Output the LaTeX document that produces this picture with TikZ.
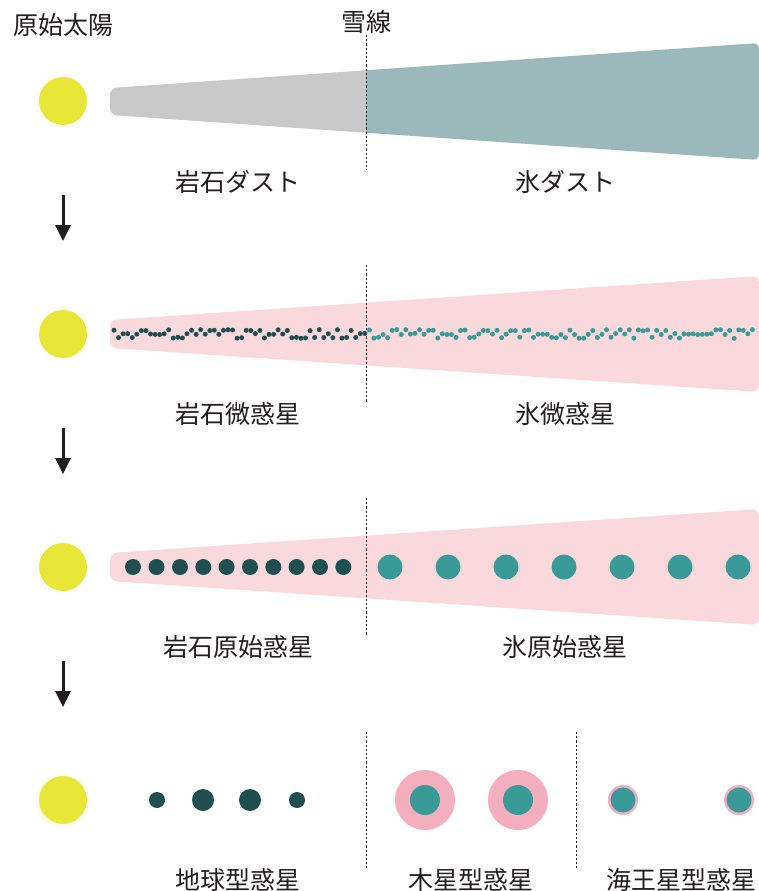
\documentclass[tikz,border=0pt]{standalone}
\usepackage{fontspec}
\setmainfont{Noto Sans CJK JP}
\usetikzlibrary{arrows.meta}
\definecolor{sunY}{HTML}{E8E737}
\definecolor{rockG}{HTML}{C8CAC9}
\definecolor{iceG}{HTML}{9BB8BA}
\definecolor{diskP}{HTML}{FAD9DD}
\definecolor{darkT}{HTML}{1F4F4E}
\definecolor{lightT}{HTML}{3A9A98}
\definecolor{ringP}{HTML}{F4AFBF}
\definecolor{txt}{HTML}{231F20}
\tikzset{
  lbl/.style={font=\fontsize{25}{28}\selectfont, text=txt, inner sep=0pt},
  sun/.style={circle, fill=sunY, minimum size=48pt, inner sep=0pt},
  snow/.style={dash pattern=on 2.2pt off 2pt, line width=1pt, txt},
  downarrow/.style={line width=3pt, txt, -{Triangle[length=16pt,width=15pt]}},
  rockdot/.style={circle, fill=darkT, inner sep=0pt},
  icedot/.style={circle, fill=lightT, inner sep=0pt},
}
\begin{document}
\begin{tikzpicture}[x=1pt,y=-1pt]
\useasboundingbox (0,0) rectangle (759,891);
% titles
\node[lbl] (tsun) at (63,25) {原始太陽};
\node[lbl] (tsnow) at (366,22) {雪線};
% suns
\foreach \yy/\n in {101/1,334/2,567/3,800/4}
  \node[sun] (sun\n) at (63,\yy) {};
% arrows
\foreach \a/\b/\n in {195/241/1,428/474/2,661/707/3}{
  \coordinate (as\n) at (63,\a);
  \coordinate (ae\n) at (63,\b);
  \draw[downarrow] (as\n) -- (ae\n);
}
% row 1 disk
\begin{scope}
  \clip (366,30) rectangle (770,170);
  \fill[iceG, rounded corners=6pt] (110,88) -- (759,43) -- (759,160) -- (110,115) -- cycle;
\end{scope}
\begin{scope}
  \clip (100,30) rectangle (366,170);
  \fill[rockG, rounded corners=7pt] (110,88) -- (759,43) -- (759,160) -- (110,115) -- cycle;
\end{scope}
% rows 2,3 disks
\foreach \c in {334,567}{
  \fill[diskP, rounded corners=7pt] (110,\c-14) -- (759,\c-58) -- (759,\c+58) -- (110,\c+14) -- cycle;
}
% snow lines
\foreach \a/\b/\n in {35/170/1,265/403/2,498/636/3,732/868/4}{
  \coordinate (sa\n) at (366,\a);
  \coordinate (sb\n) at (366,\b);
  \draw[snow] (sa\n) -- (sb\n);
}
\coordinate (na) at (576,732);
\coordinate (nb) at (576,868);
\draw[snow] (na) -- (nb);
% planetesimals
\pgfmathsetseed{11}
\foreach \i in {0,...,140}{
  \pgfmathsetmacro{\xx}{114+\i*4.56}
  \pgfmathsetmacro{\yy}{334+3.8*random(-1,1)+0.6*rand}
  \pgfmathtruncatemacro{\isrock}{\xx<365 ? 1 : 0}
  \ifnum\isrock=1
    \node[rockdot, minimum size=5pt] (p\i) at (\xx,\yy) {};
  \else
    \node[icedot, minimum size=5pt] (p\i) at (\xx,\yy) {};
  \fi
}
% protoplanets
\foreach \xx [count=\n] in {133,156.5,180,203.3,226.6,250,273.3,296.6,320,343.3}
  \node[rockdot, minimum size=16pt] (rp\n) at (\xx,567) {};
\foreach \xx [count=\n] in {390,448,506,564,622,680,738}
  \node[icedot, minimum size=25pt] (ip\n) at (\xx,567) {};
% final planets
\node[rockdot, minimum size=16pt] (e1) at (157,800) {};
\node[rockdot, minimum size=22pt] (e2) at (203,800) {};
\node[rockdot, minimum size=22pt] (e3) at (250,800) {};
\node[rockdot, minimum size=16pt] (e4) at (297,800) {};
\foreach \xx/\n in {425/1,518/2}{
  \node[circle, fill=ringP, minimum size=60pt, inner sep=0pt] (jr\n) at (\xx,800) {};
  \node[icedot, minimum size=30pt] (jc\n) at (\xx,800) {};
}
\foreach \xx/\n in {623/1,739/2}{
  \node[circle, fill=ringP, minimum size=30pt, inner sep=0pt] (nr\n) at (\xx,800) {};
  \node[icedot, minimum size=25pt] (nc\n) at (\xx,800) {};
}
% labels
\node[lbl] (l1a) at (238,182) {岩石ダスト};
\node[lbl] (l1b) at (565,182) {氷ダスト};
\node[lbl] (l2a) at (238,414) {岩石微惑星};
\node[lbl] (l2b) at (565,414) {氷微惑星};
\node[lbl] (l3a) at (238,647) {岩石原始惑星};
\node[lbl] (l3b) at (565,647) {氷原始惑星};
\node[lbl] (l4a) at (238,880) {地球型惑星};
\node[lbl] (l4b) at (471,880) {木星型惑星};
\node[lbl] (l4c) at (681,880) {海王星型惑星};
\end{tikzpicture}
\end{document}
